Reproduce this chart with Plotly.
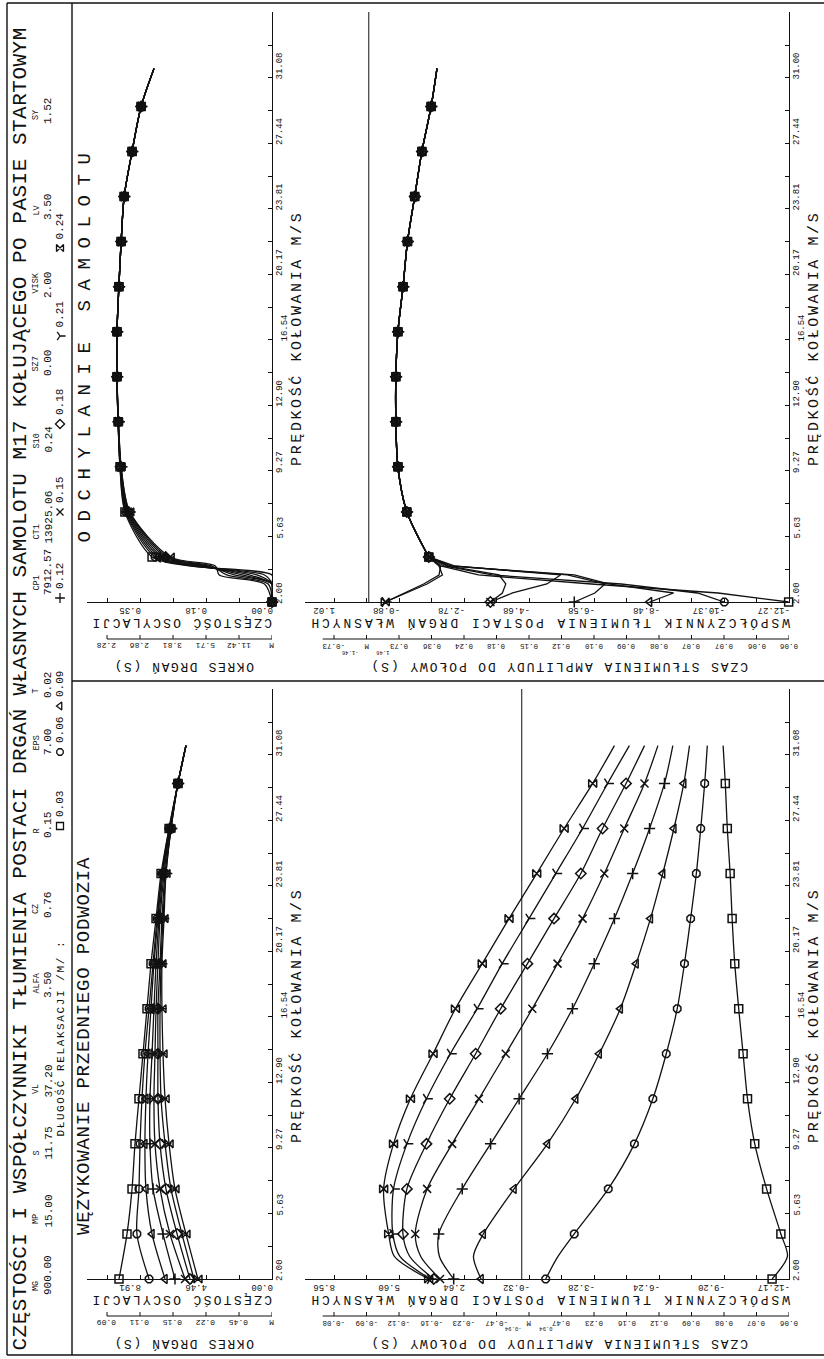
import plotly.graph_objects as go

W, H = 824, 1359
FONT = "Liberation Mono"
INK = "#111111"

def PX(x):
    return x / W

def PY(y):
    return 1 - y / H

# ------------------------------------------------------------------ DATA
relax = ["0.03", "0.06", "0.09", "0.12", "0.15", "0.18", "0.21", "0.24"]
symbols = ["square-open", "octagon-open", "triangle-left-open", "cross-thin-open",
           "x-thin-open", "diamond-open", "y-right-open", "bowtie-open"]

marker_speeds = [2.0, 4.5, 7.0, 9.5, 12.0, 14.5, 17.0, 19.5, 22.0, 24.5, 27.0, 29.5]

# shimmy of the nose gear - frequency [Hz]
shim_speeds = [2.0, 4.5, 7.0, 9.5, 12.0, 14.5, 17.0, 19.5, 22.0, 24.5, 27.0, 29.5, 31.6]
shim_freq = {
    "0.03": [10.33, 9.79, 9.45, 9.25, 8.98, 8.71, 8.44, 8.17, 7.83, 7.49, 6.95, 6.35, 5.81],
    "0.06": [8.30, 9.12, 8.98, 8.91, 8.78, 8.58, 8.30, 8.03, 7.76, 7.43, 6.95, 6.35, 5.81],
    "0.09": [7.22, 8.10, 8.51, 8.58, 8.51, 8.37, 8.17, 7.97, 7.70, 7.43, 6.89, 6.35, 5.81],
    "0.12": [6.55, 7.36, 8.03, 8.24, 8.24, 8.10, 7.97, 7.83, 7.63, 7.36, 6.89, 6.35, 5.81],
    "0.15": [5.87, 6.89, 7.56, 7.90, 7.97, 7.90, 7.83, 7.70, 7.56, 7.29, 6.89, 6.35, 5.81],
    "0.18": [5.54, 6.41, 7.16, 7.56, 7.70, 7.70, 7.70, 7.56, 7.43, 7.22, 6.82, 6.35, 5.81],
    "0.21": [5.27, 6.08, 6.82, 7.22, 7.49, 7.56, 7.56, 7.49, 7.36, 7.16, 6.82, 6.35, 5.81],
    "0.24": [5.00, 5.81, 6.55, 6.95, 7.22, 7.36, 7.43, 7.43, 7.29, 7.16, 6.82, 6.35, 5.81],
}

# shimmy - damping coefficient
shim_damp_speeds = [2.0, 3.25, 4.5, 7.0, 9.5, 12.0, 14.5, 17.0, 19.5, 22.0, 24.5, 27.0, 29.5, 31.6]
shim_damp = {
    "0.03": [-11.40, -12.10, -11.80, -11.15, -10.61, -10.28, -10.08, -9.88, -9.70, -9.58, -9.49, -9.36, -9.27, -9.17],
    "0.06": [-1.09, -1.65, -2.39, -3.94, -5.13, -5.97, -6.58, -7.08, -7.41, -7.69, -7.95, -8.15, -8.33, -8.45],
    "0.09": [1.85, 2.20, 1.75, 0.35, -1.17, -2.46, -3.53, -4.49, -5.21, -5.86, -6.42, -6.93, -7.38, -7.64],
    "0.12": [3.10, 3.75, 3.78, 2.71, 1.42, 0.12, -1.17, -2.31, -3.30, -4.22, -5.05, -5.82, -6.50, -6.88],
    "0.15": [3.72, 4.60, 4.85, 4.31, 3.17, 1.95, 0.73, -0.48, -1.63, -2.77, -3.76, -4.67, -5.59, -6.20],
    "0.18": [4.01, 5.10, 5.41, 5.23, 4.34, 3.28, 2.10, 0.96, -0.26, -1.47, -2.69, -3.68, -4.75, -5.59],
    "0.21": [4.16, 5.55, 5.87, 5.84, 5.23, 4.34, 3.25, 2.03, 0.89, -0.33, -1.55, -2.77, -3.91, -4.90],
    "0.24": [4.24, 5.80, 6.06, 6.29, 5.84, 5.07, 4.04, 3.02, 1.80, 0.58, -0.68, -1.93, -3.23, -4.22],
}

# yaw of the aircraft - frequency [Hz]
yaw_speeds = [2.0, 3.0, 3.5, 4.0, 4.5, 7.0, 9.5, 12.0, 14.5, 17.0, 19.5, 22.0, 24.5, 27.0, 29.5, 31.6]
yaw_freq = {
    "0.03": [0.0, 0.0, 0.00, 0.22, 0.318, 0.390, 0.403, 0.408, 0.411, 0.411, 0.406, 0.400, 0.392, 0.371, 0.347, 0.313],
    "0.06": [0.0, 0.0, 0.02, 0.21, 0.310, 0.388, 0.403, 0.408, 0.411, 0.411, 0.406, 0.400, 0.392, 0.371, 0.347, 0.313],
    "0.09": [0.0, 0.0, 0.04, 0.20, 0.303, 0.386, 0.402, 0.408, 0.411, 0.411, 0.406, 0.400, 0.392, 0.371, 0.347, 0.313],
    "0.12": [0.0, 0.0, 0.06, 0.19, 0.296, 0.384, 0.402, 0.408, 0.411, 0.411, 0.406, 0.400, 0.392, 0.371, 0.347, 0.313],
    "0.15": [0.0, 0.0, 0.08, 0.18, 0.289, 0.382, 0.401, 0.408, 0.411, 0.411, 0.406, 0.400, 0.392, 0.371, 0.347, 0.313],
    "0.18": [0.0, 0.0, 0.10, 0.17, 0.282, 0.380, 0.401, 0.407, 0.411, 0.411, 0.406, 0.400, 0.392, 0.371, 0.347, 0.313],
    "0.21": [0.0, 0.01, 0.12, 0.16, 0.276, 0.378, 0.400, 0.407, 0.411, 0.411, 0.406, 0.400, 0.392, 0.371, 0.347, 0.313],
    "0.24": [0.0, 0.02, 0.14, 0.15, 0.270, 0.377, 0.400, 0.407, 0.411, 0.411, 0.406, 0.400, 0.392, 0.371, 0.347, 0.313],
}

# yaw - damping coefficient (low-speed branch, then common branch)
yaw_low_speeds = [2.0, 2.5, 3.0, 3.5, 4.0, 4.5]
yaw_damp_low = {
    "0.03": [-12.26, -10.20, -6.50, -3.20, -2.10, -1.75],
    "0.06": [-10.38, -9.60, -7.37, -3.60, -2.20, -1.75],
    "0.09": [-8.20, -8.90, -7.00, -6.00, -2.30, -1.75],
    "0.12": [-6.00, -6.60, -6.90, -5.80, -2.40, -1.75],
    "0.15": [-3.55, -4.20, -5.20, -5.60, -2.50, -1.75],
    "0.18": [-3.55, -3.90, -4.00, -3.80, -2.30, -1.75],
    "0.21": [-0.48, -1.05, -1.60, -2.05, -2.10, -1.75],
    "0.24": [-0.48, -1.10, -1.70, -2.15, -2.05, -1.75],
}
yaw_main_speeds = [4.5, 7.0, 9.5, 12.0, 14.5, 17.0, 19.5, 22.0, 24.5, 27.0, 29.5, 31.6]
yaw_damp_main = [-1.75, -1.11, -0.85, -0.79, -0.79, -0.85, -1.00, -1.13, -1.34, -1.55, -1.82, -1.99]

# tick labels
speed_label_vals = [2.00, 5.635, 9.27, 12.905, 16.54, 20.175, 23.81, 27.445, 31.08]
speed_labels = ["2.00", "5.63", "9.27", "12.90", "16.54", "20.17", "23.81", "27.44", "31.08"]
speed_labels_tr = ["2.00", "5.63", "9.27", "12.90", "16.54", "20.17", "23.81", "27.44", "31.00"]

yaw_freq_lab_vals = [0.0, 0.175, 0.35]
yaw_freq_labels = ["0.00", "0.18", "0.35"]
yaw_period_labels = ["M", "11.42", "5.71", "3.81", "2.86", "2.28"]

shim_freq_lab_vals = [0.0, 4.456, 8.912]
shim_freq_labels = ["0.00", "4.46", "8.91"]
shim_period_labels = ["M", "0.45", "0.22", "0.15", "0.11", "0.09"]

yaw_damp_labels = ["-12.27", "-10.37", "-8.48", "-6.58", "-4.68", "-2.78", "-0.88", "1.02"]
yaw_time_labels = ["0.06", "0.06", "0.07", "0.07", "0.08", "0.09", "0.10", "0.12",
                   "0.15", "0.18", "0.24", "0.36", "0.73", "M", "-0.73"]
yaw_time_small = ["1.46", "-1.46"]

shim_damp_labels = ["-12.17", "-9.20", "-6.24", "-3.28", "-0.32", "2.64", "5.60", "8.56"]
shim_time_labels = ["0.06", "0.07", "0.08", "0.09", "0.12", "0.16", "0.23", "0.47",
                    "M", "-0.47", "-0.23", "-0.16", "-0.12", "-0.09", "-0.08"]
shim_time_small = ["0.94", "-0.94"]

title = "CZĘSTOŚCI I WSPÓŁCZYNNIKI TŁUMIENIA POSTACI DRGAŃ WŁASNYCH SAMOLOTU M17 KOŁUJĄCEGO PO PASIE STARTOWYM"
param_names = ["MG", "MP", "S", "VL", "ALFA", "CZ", "R", "EPS", "T", "CP1", "CT1", "S10", "SZ7", "VISK", "LV", "SY"]
param_values = ["900.00", "15.00", "11.75", "37.20", "3.50", "0.76", "0.15", "7.00", "0.02",
                "7912.57", "13925.06", "0.24", "0.00", "2.00", "3.50", "1.52"]

# ------------------------------------------------------------------ LAYOUT GEOMETRY (pixels)
SPEED_PX = 18.02          # px per m/s
SPEED_STEP = 1.8175       # minor tick step along the speed axis
param_start_y = [1297, 1230, 1162, 1100, 1000, 920, 840, 757, 700, 597, 546, 455, 378, 300, 222, 126]
legend_sym_y = [826, 752, 706, 598, 512, 424, 336, 248]

panels = [
    dict(k="yf", xa="x", ya="y", xl=87, xr=272, ya_px=602, yt=12, vmin=0.0, vstep=0.0875, pps=33.0),
    dict(k="yd", xa="x2", ya="y2", xl=305, xr=789, ya_px=602, yt=12, vmin=-12.27, vstep=0.949, pps=32.5),
    dict(k="sf", xa="x3", ya="y3", xl=87, xr=272, ya_px=1279, yt=689, vmin=0.0, vstep=2.228, pps=33.0),
    dict(k="sd", xa="x4", ya="y4", xl=305, xr=789, ya_px=1279, yt=689, vmin=-12.17, vstep=1.48, pps=32.5),
]

fig = go.Figure()
annotations = []
shapes = []

def ann(x, y, text, size, angle=0, xref="paper", yref="paper", xanchor="center",
        yanchor="middle", xshift=0, yshift=0, ls=None):
    if ls is not None:
        text = '<span style="letter-spacing:%.1fpx">%s</span>' % (ls, text)
    annotations.append(dict(x=x, y=y, xref=xref, yref=yref, text=text, showarrow=False,
                            textangle=angle, xanchor=xanchor, yanchor=yanchor,
                            xshift=xshift, yshift=yshift,
                            font=dict(family=FONT, size=size, color=INK)))

layout_axes = {}
for i, p in enumerate(panels):
    sfx = "" if i == 0 else str(i + 1)
    vmax = p["vmin"] + (p["xr"] - p["xl"]) / p["pps"] * p["vstep"]
    smax = 2.0 + (p["ya_px"] - p["yt"]) / SPEED_PX
    p["vmax"] = vmax
    nvt = int((vmax - p["vmin"]) / p["vstep"] + 1e-6)
    vticks = [p["vmin"] + j * p["vstep"] for j in range(nvt + 1)]
    p["vticks"] = vticks
    sticks = [2.0 + j * SPEED_STEP for j in range(int((smax - 2.0) / SPEED_STEP) + 1)]
    layout_axes["xaxis" + sfx] = dict(
        domain=[PX(p["xl"]), PX(p["xr"])], range=[vmax, p["vmin"]], anchor=p["ya"],
        showline=True, linecolor=INK, linewidth=1.2, ticks="inside", ticklen=4, tickwidth=1,
        tickcolor=INK, tickvals=vticks, showticklabels=False, showgrid=False, zeroline=False)
    layout_axes["yaxis" + sfx] = dict(
        domain=[PY(p["ya_px"]), PY(p["yt"])], range=[2.0, smax], anchor=p["xa"], side="right",
        showline=True, linecolor=INK, linewidth=1.2, ticks="inside", ticklen=4, tickwidth=1,
        tickcolor=INK, tickvals=sticks, showticklabels=False, showgrid=False, zeroline=False)

# full-page helper axis (for legend symbols in the header strip)
layout_axes["xaxis5"] = dict(domain=[0, 1], range=[0, W], visible=False, anchor="y5")
layout_axes["yaxis5"] = dict(domain=[0, 1], range=[H, 0], visible=False, anchor="x5")

# ------------------------------------------------------------------ TRACES
def curve(xa, ya, xs, ys, shape="spline"):
    fig.add_trace(go.Scatter(x=xs, y=ys, xaxis=xa, yaxis=ya, mode="lines",
                             line=dict(color=INK, width=1.3, shape=shape, smoothing=0.8),
                             hoverinfo="skip", showlegend=False))

def marks(xa, ya, xs, ys, sym):
    fig.add_trace(go.Scatter(x=xs, y=ys, xaxis=xa, yaxis=ya, mode="markers",
                             marker=dict(symbol=sym, size=8, color=INK,
                                         line=dict(color=INK, width=1.5)),
                             hoverinfo="skip", showlegend=False, cliponaxis=False))

def at_markers(speeds, vals):
    xs, ys = [], []
    for s, v in zip(speeds, vals):
        if s in marker_speeds:
            xs.append(v)
            ys.append(s)
    return xs, ys

for j, r in enumerate(relax):
    curve("x", "y", yaw_freq[r], yaw_speeds)
    mx, my = at_markers(yaw_speeds, yaw_freq[r])
    marks("x", "y", mx, my, symbols[j])

    curve("x2", "y2", yaw_damp_low[r], yaw_low_speeds, shape="linear")
    curve("x2", "y2", yaw_damp_main, yaw_main_speeds)
    mx, my = at_markers(yaw_low_speeds[:1], yaw_damp_low[r][:1])
    mx2, my2 = at_markers(yaw_main_speeds, yaw_damp_main)
    marks("x2", "y2", mx + mx2, my + my2, symbols[j])

    curve("x3", "y3", shim_freq[r], shim_speeds)
    mx, my = at_markers(shim_speeds, shim_freq[r])
    marks("x3", "y3", mx, my, symbols[j])

    curve("x4", "y4", shim_damp[r], shim_damp_speeds)
    mx, my = at_markers(shim_damp_speeds, shim_damp[r])
    marks("x4", "y4", mx, my, symbols[j])

# ------------------------------------------------------------------ AXIS TEXT
value_label_sets = {
    "yf": (yaw_freq_lab_vals, yaw_freq_labels),
    "sf": (shim_freq_lab_vals, shim_freq_labels),
}
second_axis = {
    "yf": (yaw_period_labels, None, "OKRES DRGAŃ (S)", 1.6, None),
    "sf": (shim_period_labels, None, "OKRES DRGAŃ (S)", 1.6, None),
    "yd": (yaw_time_labels, yaw_time_small, "CZAS STŁUMIENIA AMPLITUDY DO POŁOWY (S)", 1.9, 13),
    "sd": (shim_time_labels, shim_time_small, "CZAS STŁUMIENIA AMPLITUDY DO POŁOWY (S)", 1.9, 8),
}
axis_titles = {
    "yf": ("CZĘSTOŚĆ OSCYLACJI", 2.3),
    "sf": ("CZĘSTOŚĆ OSCYLACJI", 2.3),
    "yd": ("WSPÓŁCZYNNIK TŁUMIENIA POSTACI DRGAŃ WŁASNYCH", 2.9),
    "sd": ("WSPÓŁCZYNNIK TŁUMIENIA POSTACI DRGAŃ WŁASNYCH", 2.9),
}
damp_labels = {"yd": yaw_damp_labels, "sd": shim_damp_labels}

for p in panels:
    k, xa, ya, y0 = p["k"], p["xa"], p["ya"], p["ya_px"]
    if k in value_label_sets:
        vals, labs = value_label_sets[k]
    else:
        labs = damp_labels[k]
        vals = p["vticks"][::2]
    for v, t in zip(vals, labs):
        ann(v, PY(y0 + 8), t, 9, angle=180, xref=xa, xanchor="right", xshift=3)
    t, ls = axis_titles[k]
    ann(PX((p["xl"] + p["xr"]) / 2 + 2), PY(y0 + 21), t, 13, angle=180, ls=ls)
    labs2, small, t2, ls2, mk = second_axis[k]
    n2 = len(labs2)
    xv = p["vticks"][:n2]
    ext = p["vmin"] + (n2 - 1 + (0.35 if k in ("yd", "sd") else 0.0)) * p["vstep"]
    shapes.append(dict(type="line", xref=xa, yref="paper", x0=p["vmin"], x1=ext,
                       y0=PY(y0 + 37), y1=PY(y0 + 37), line=dict(color=INK, width=1.2)))
    for v in xv:
        shapes.append(dict(type="line", xref=xa, yref="paper", x0=v, x1=v,
                           y0=PY(y0 + 37), y1=PY(y0 + 33), line=dict(color=INK, width=1)))
    for v, t in zip(xv, labs2):
        ann(v, PY(y0 + 44), t, 7.5 if k in ("yd", "sd") else 8, angle=180, xref=xa)
    if small:
        for off, t in zip([-0.5, 0.5], small):
            ann(p["vmin"] + (mk + off) * p["vstep"], PY(y0 + 50), t, 5.5, angle=180, xref=xa)
    ann(PX((p["xl"] + p["xr"]) / 2 + (12 if k in ("yd", "sd") else 4)), PY(y0 + 65), t2, 13,
        angle=180, ls=ls2)
    labs = speed_labels_tr if k == "yd" else speed_labels
    for s, t in zip(speed_label_vals, labs):
        extra = 5 if t == "16.54" else 0
        ann(PX(p["xr"] + 8 + extra), s, t, 9, angle=-90, yref=ya, yanchor="bottom", yshift=-4)
    ann(PX(p["xr"] + 25), 16.6, "PRĘDKOŚĆ KOŁOWANIA M/S", 15, angle=-90, yref=ya, ls=2.6)
    if k in ("yd", "sd"):
        shapes.append(dict(type="line", xref=xa, yref=ya + " domain", x0=0, x1=0, y0=0, y1=1,
                           line=dict(color=INK, width=1)))

ann(PX(84), PY(1237), "WĘZYKOWANIE PRZEDNIEGO PODWOZIA", 19, angle=-90, yanchor="bottom", ls=0.8)
ann(PX(84), PY(545), "ODCHYLANIE SAMOLOTU", 19, angle=-90, yanchor="bottom", ls=9.6)

# ------------------------------------------------------------------ HEADER STRIP
ann(PX(20), PY(1353), title, 21, angle=-90, yanchor="bottom", ls=0.5)
for name, val, ys in zip(param_names, param_values, param_start_y):
    ann(PX(36), PY(ys - 4), name, 8.5, angle=-90, yanchor="bottom")
    ann(PX(48), PY(ys), val, 11, angle=-90, yanchor="bottom")
ann(PX(60), PY(1138), "DŁUGOŚĆ RELAKSACJI /M/ :", 11, angle=-90, yanchor="bottom", ls=1.6)
fig.add_trace(go.Scatter(x=[60] * len(relax), y=legend_sym_y, xaxis="x5", yaxis="y5",
                         mode="markers", hoverinfo="skip", showlegend=False,
                         marker=dict(symbol=symbols, size=7, color=INK,
                                     line=dict(color=INK, width=1.3))))
for r, ys in zip(relax, legend_sym_y):
    ann(PX(60), PY(ys - 7), r, 11, angle=-90, yanchor="bottom")

frame = [(7, 3, 824, 3), (7, 3, 7, 1355), (7, 1355, 824, 1355), (72, 3, 72, 1355), (72, 681, 824, 681)]
for x0, y0, x1, y1 in frame:
    shapes.append(dict(type="line", xref="paper", yref="paper", x0=PX(x0), x1=PX(x1),
                       y0=PY(y0), y1=PY(y1), line=dict(color=INK, width=1.4)))

fig.update_layout(width=W, height=H, margin=dict(l=0, r=0, t=0, b=0),
                  paper_bgcolor="white", plot_bgcolor="rgba(0,0,0,0)", showlegend=False,
                  annotations=annotations, shapes=shapes, **layout_axes)

fig.write_html("out.html")
